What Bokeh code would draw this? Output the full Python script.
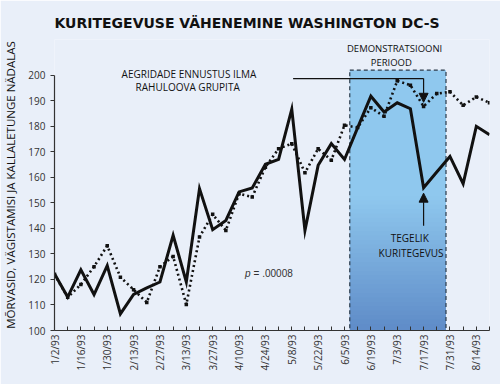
import math
from bokeh.plotting import figure
from bokeh.models import (Range1d, FixedTicker, Label, Arrow, NormalHead,
                          ColumnDataSource, Title)
from bokeh.embed import file_html
from bokeh.resources import INLINE

# ---- data -------------------------------------------------------------
weeks = list(range(34))  # weekly points starting 1/2/93
tick_labels = ["1/2/93", "1/16/93", "1/30/93", "2/13/93", "2/27/93", "3/13/93",
               "3/27/93", "4/10/93", "4/24/93", "5/8/93", "5/22/93", "6/5/93",
               "6/19/93", "7/3/93", "7/17/93", "7/31/93", "8/14/93"]
actual = [122.2, 113.1, 123.8, 114.1, 125.4, 106.5, 114.1, 116.7, 119.0, 137.3,
          119.0, 155.6, 139.5, 143.1, 154.3, 155.8, 165.1, 167.0, 186.7, 139.2,
          164.7, 173.2, 167.0, 179.5, 191.8, 185.6, 189.2, 186.9, 155.9, 162.1,
          168.2, 157.5, 180.0, 176.7]
predicted = [122.0, 113.0, 118.0, 125.0, 133.2, 120.9, 116.0, 111.0, 125.0, 129.0,
             110.2, 136.6, 145.5, 139.2, 153.6, 152.3, 164.0, 171.2, 173.2, 161.8,
             171.2, 166.7, 180.4, 179.5, 187.3, 183.9, 197.8, 196.1, 187.8, 192.8,
             193.5, 188.2, 191.5, 189.2]
demo_start, demo_end = 22.4, 29.7   # demonstration period (weeks)
y_ticks = list(range(100, 201, 10))

# ---- styling ----------------------------------------------------------
BG = "#e9eff9"
FONT = "Open Sans"

p = figure(width=500, height=384, x_range=Range1d(0, 33), y_range=Range1d(100, 214),
           output_backend="svg", toolbar_location=None,
           background_fill_color=BG, border_fill_color=BG, outline_line_color=None,
           min_border_left=53, min_border_right=11, min_border_top=39, min_border_bottom=54)
p.grid.visible = False

p.title = Title(text="KURITEGEVUSE VÄHENEMINE WASHINGTON DC-S", align="left",
                text_font="DejaVu Sans", text_font_size="14px", text_font_style="bold",
                text_color="#111111", offset=0, standoff=17)

# shaded demonstration period with vertical gradient
top_col = (0x8f, 0xc8, 0xee)
bot_col = (0x5f, 0x8c, 0xc8)
n = 30
g_bottom, g_top = 100.0, 152.0
bottoms, tops, cols = [], [], []
bottoms.append(g_top - 1); tops.append(202.0); cols.append("#%02x%02x%02x" % top_col)
for i in reversed(range(n)):
    b = g_bottom + (g_top - g_bottom) * i / n
    t = g_bottom + (g_top - g_bottom) * (i + 1) / n
    f = (i + 0.5) / n
    c = tuple(int(round(bot_col[k] + (top_col[k] - bot_col[k]) * f)) for k in range(3))
    bottoms.append(b); tops.append(t + 0.8); cols.append("#%02x%02x%02x" % c)
p.quad(left=[demo_start] * len(tops), right=[demo_end] * len(tops),
       bottom=bottoms, top=tops, fill_color=cols, line_color=None)
p.quad(left=[demo_start], right=[demo_end], bottom=[100], top=[202],
       fill_color=None, line_color="#2a3a4a", line_width=1.2, line_dash="4 3")

src = ColumnDataSource(dict(x=weeks, actual=actual, predicted=predicted))
p.line("x", "predicted", source=src, line_color="#111111", line_width=2.6,
       line_dash="2 3")
p.scatter("x", "predicted", source=src, marker="square", size=3.5,
          fill_color="#111111", line_color=None)
p.line("x", "actual", source=src, line_color="#111111", line_width=3,
       line_join="miter")

# arrows / callouts
p.segment(x0=[18.1], y0=[198.7], x1=[28], y1=[198.7], line_color="#111111", line_width=1.2)
p.add_layout(Arrow(end=NormalHead(size=9, fill_color="#111111", line_color="#111111"),
                   x_start=28, y_start=198.7, x_end=28, y_end=189.4,
                   line_color="#111111", line_width=1.2))
p.add_layout(Arrow(end=NormalHead(size=9, fill_color="#111111", line_color="#111111"),
                   x_start=28, y_start=141.0, x_end=28, y_end=153.8,
                   line_color="#111111", line_width=1.2))

def lab(x, y, t, size="10px", style="normal", align="center", color="#111111", font=FONT):
    p.add_layout(Label(x=x, y=y, text=t, text_align=align, text_baseline="middle",
                       text_font=font, text_font_size=size, text_font_style=style,
                       text_color=color))

lab(10.2, 200.4, "AEGRIDADE ENNUSTUS ILMA")
lab(10.1, 195.3, "RAHULOOVA GRUPITA")
lab(25.8, 210.6, "DEMONSTRATSIOONI", size="9.5px")
lab(25.55, 205.1, "PERIOOD", size="9.5px")
lab(26.95, 136.1, "TEGELIK")
lab(27.05, 130.2, "KURITEGEVUS")
lab(14.45, 122.4, "p", size="10px", style="italic", align="left", color="#333333", font="Liberation Sans")
lab(15.1, 122.4, "= .00008", size="10px", align="left", color="#333333", font="Liberation Sans")

# axes
xa = p.xaxis[0]
xa.ticker = FixedTicker(ticks=weeks)
xa.major_label_overrides = {w: (tick_labels[w // 2] if w % 2 == 0 else "") for w in weeks}
xa.major_label_orientation = math.pi / 2
xa.major_tick_in = 4
xa.major_tick_out = 0
xa.minor_tick_line_color = None
xa.major_label_standoff = 4
xa.axis_label = None

ya = p.yaxis[0]
ya.ticker = FixedTicker(ticks=y_ticks)
ya.bounds = (100, 200)
ya.major_tick_in = 0
ya.major_tick_out = 4
ya.minor_tick_line_color = None
ya.major_label_standoff = 5
ya.axis_label = "MÕRVASID, VÄGISTAMISI JA KALLALETUNGE NÄDALAS"
ya.axis_label_text_font = FONT
ya.axis_label_text_font_size = "11.5px"
ya.axis_label_text_font_style = "normal"
ya.axis_label_text_color = "#111111"
ya.axis_label_standoff = 7

for ax in (xa, ya):
    ax.axis_line_color = "#333333"
    ax.axis_line_width = 1.2
    ax.major_tick_line_color = "#333333"
    ax.major_label_text_font = FONT
    ax.major_label_text_font_size = "10px"
    ax.major_label_text_color = "#333333"

open("out.html", "w").write(file_html(p, INLINE))
